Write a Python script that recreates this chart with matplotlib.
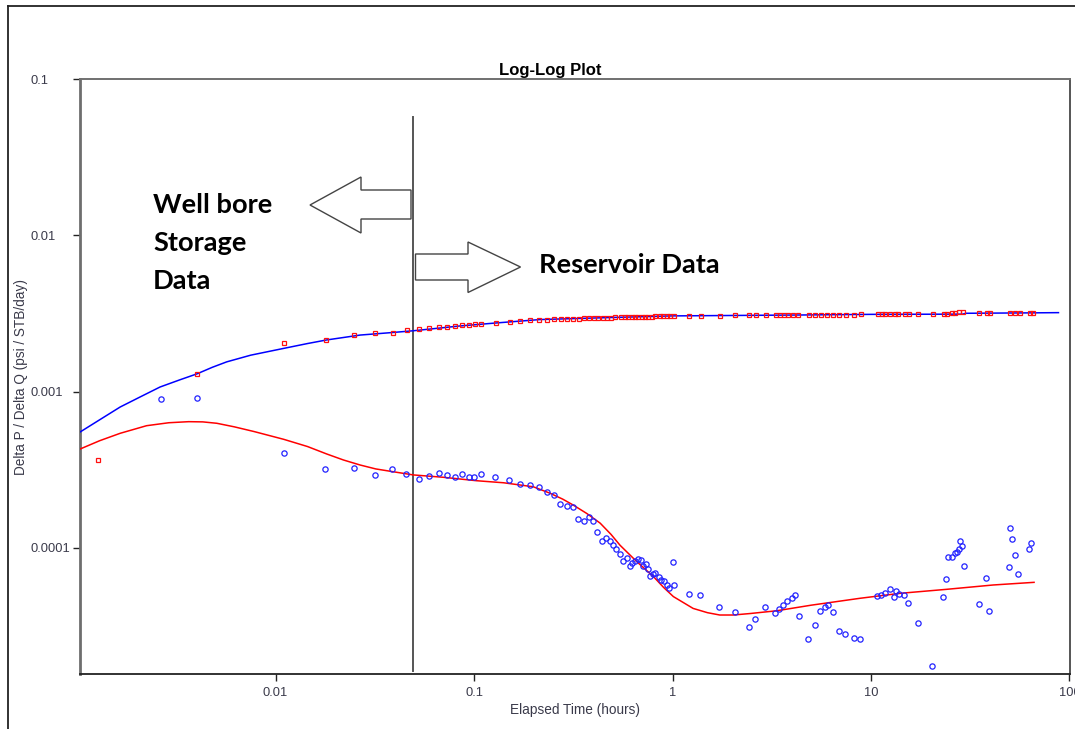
import numpy as np
import matplotlib.pyplot as plt
from matplotlib.lines import Line2D
from matplotlib.patches import Polygon

# pressure change data (red squares) and model (blue line)
dp_t = [0.00127, 0.00403, 0.0110, 0.0179, 0.0248, 0.0317, 0.0391, 0.0458, 0.0528, 0.0596,
        0.0667, 0.0735, 0.0802, 0.0873, 0.0948, 0.101, 0.109, 0.129, 0.151, 0.171,
        0.191, 0.212, 0.234, 0.254, 0.273, 0.295, 0.316, 0.338, 0.358, 0.381,
        0.403, 0.423, 0.445, 0.466, 0.490, 0.515, 0.548, 0.576, 0.598, 0.622,
        0.647, 0.673, 0.700, 0.727, 0.755, 0.785, 0.817, 0.865, 0.899, 0.935,
        0.971, 1.018, 1.216, 1.39, 1.73, 2.07, 2.43, 2.62, 2.96, 3.31,
        3.48, 3.65, 3.83, 4.06, 4.30, 4.89, 5.22, 5.58, 5.98, 6.46,
        6.92, 7.48, 8.24, 8.87, 10.8, 11.3, 11.8, 12.5, 13.2, 13.7,
        14.8, 15.5, 17.3, 20.6, 23.3, 24.2, 25.5, 26.5, 27.9, 29.0,
        35.2, 38.3, 39.8, 50.2, 53.1, 56.3, 63.2, 65.7]
dp_val = [3.66e-4, 1.30e-3, 2.05e-3, 2.15e-3, 2.29e-3, 2.36e-3, 2.38e-3, 2.47e-3, 2.50e-3, 2.54e-3,
          2.60e-3, 2.58e-3, 2.63e-3, 2.65e-3, 2.65e-3, 2.70e-3, 2.69e-3, 2.75e-3, 2.78e-3, 2.83e-3,
          2.87e-3, 2.87e-3, 2.89e-3, 2.90e-3, 2.91e-3, 2.92e-3, 2.93e-3, 2.93e-3, 2.94e-3, 2.95e-3,
          2.95e-3, 2.96e-3, 2.96e-3, 2.97e-3, 2.97e-3, 2.98e-3, 2.98e-3, 2.99e-3, 2.99e-3, 3.00e-3,
          3.00e-3, 3.01e-3, 3.01e-3, 3.02e-3, 3.02e-3, 3.02e-3, 3.03e-3, 3.03e-3, 3.03e-3, 3.04e-3,
          3.04e-3, 3.05e-3, 3.05e-3, 3.06e-3, 3.06e-3, 3.07e-3, 3.07e-3, 3.07e-3, 3.08e-3, 3.08e-3,
          3.08e-3, 3.09e-3, 3.09e-3, 3.09e-3, 3.09e-3, 3.10e-3, 3.10e-3, 3.10e-3, 3.10e-3, 3.11e-3,
          3.11e-3, 3.11e-3, 3.11e-3, 3.12e-3, 3.12e-3, 3.12e-3, 3.13e-3, 3.13e-3, 3.13e-3, 3.13e-3,
          3.13e-3, 3.14e-3, 3.14e-3, 3.15e-3, 3.15e-3, 3.15e-3, 3.16e-3, 3.16e-3, 3.22e-3, 3.22e-3,
          3.17e-3, 3.17e-3, 3.17e-3, 3.18e-3, 3.18e-3, 3.18e-3, 3.19e-3, 3.19e-3]

dp_model_t = [0.00104, 0.0013, 0.00165, 0.0021, 0.00262, 0.0033, 0.00403, 0.0048, 0.00568, 0.0075,
              0.0110, 0.0145, 0.0181, 0.0267, 0.0392, 0.0494, 0.085, 0.13, 0.215, 0.5,
              1.0, 4.3, 10, 29, 30, 65, 88]
dp_model = [5.53e-4, 6.6e-4, 7.97e-4, 9.3e-4, 1.07e-3, 1.19e-3, 1.30e-3, 1.43e-3, 1.55e-3, 1.71e-3,
            1.89e-3, 2.03e-3, 2.14e-3, 2.30e-3, 2.39e-3, 2.45e-3, 2.63e-3, 2.75e-3, 2.89e-3, 2.98e-3,
            3.05e-3, 3.09e-3, 3.12e-3, 3.13e-3, 3.17e-3, 3.19e-3, 3.20e-3]

# derivative data (blue circles) and model (red line)
der_t = [0.00266, 0.00403, 0.0110, 0.0178, 0.0248, 0.0316, 0.0388, 0.0454, 0.0526, 0.0593,
         0.0664, 0.0731, 0.080, 0.0871, 0.0948, 0.1005, 0.108, 0.128, 0.150, 0.171,
         0.191, 0.212, 0.234, 0.254, 0.272, 0.293, 0.316, 0.336, 0.358, 0.381,
         0.399, 0.418, 0.440, 0.462, 0.484, 0.503, 0.519, 0.545, 0.565, 0.588,
         0.611, 0.628, 0.648, 0.673, 0.695, 0.714, 0.733, 0.750, 0.771, 0.794,
         0.819, 0.855, 0.879, 0.904, 0.936, 0.957, 1.007, 1.023, 1.21, 1.38,
         1.72, 2.07, 2.42, 2.61, 2.94, 3.28, 3.44, 3.62, 3.79, 3.98,
         4.14, 4.34, 4.83, 5.22, 5.55, 5.87, 6.08, 6.41, 6.90, 7.43,
         8.19, 8.81, 10.7, 11.2, 11.7, 12.4, 13.0, 13.3, 13.8, 14.7,
         15.4, 17.3, 20.4, 23.1, 23.9, 24.3, 25.5, 26.4, 27.0, 27.6,
         28.1, 28.8, 29.4, 35.0, 38.1, 39.4, 49.7, 50.3, 51.5, 53.0,
         54.8, 62.8, 63.8]
der_val = [8.97e-4, 9.1e-4, 4.05e-4, 3.21e-4, 3.26e-4, 2.93e-4, 3.21e-4, 2.98e-4, 2.75e-4, 2.88e-4,
           3.03e-4, 2.93e-4, 2.84e-4, 2.98e-4, 2.83e-4, 2.84e-4, 2.98e-4, 2.84e-4, 2.72e-4, 2.55e-4,
           2.52e-4, 2.44e-4, 2.28e-4, 2.19e-4, 1.90e-4, 1.84e-4, 1.82e-4, 1.53e-4, 1.49e-4, 1.57e-4,
           1.49e-4, 1.27e-4, 1.11e-4, 1.16e-4, 1.11e-4, 1.04e-4, 9.8e-5, 9.14e-5, 8.24e-5, 8.65e-5,
           7.69e-5, 8.04e-5, 8.28e-5, 8.53e-5, 8.37e-5, 7.66e-5, 7.93e-5, 7.36e-5, 6.58e-5, 6.78e-5,
           6.91e-5, 6.52e-5, 6.24e-5, 6.11e-5, 5.76e-5, 5.56e-5, 8.09e-5, 5.76e-5, 5.09e-5, 5.0e-5,
           4.17e-5, 3.91e-5, 3.10e-5, 3.51e-5, 4.17e-5, 3.83e-5, 4.08e-5, 4.30e-5, 4.55e-5, 4.76e-5,
           5.0e-5, 3.67e-5, 2.60e-5, 3.20e-5, 3.96e-5, 4.21e-5, 4.30e-5, 3.89e-5, 2.95e-5, 2.81e-5,
           2.65e-5, 2.60e-5, 4.92e-5, 5.02e-5, 5.16e-5, 5.48e-5, 4.83e-5, 5.32e-5, 5.07e-5, 5.0e-5,
           4.42e-5, 3.29e-5, 1.75e-5, 4.83e-5, 6.30e-5, 8.75e-5, 8.75e-5, 9.23e-5, 9.46e-5, 9.88e-5,
           1.10e-4, 1.03e-4, 7.62e-5, 4.36e-5, 6.42e-5, 3.96e-5, 7.58e-5, 1.35e-4, 1.14e-4, 9.0e-5,
           6.81e-5, 9.88e-5, 1.07e-4]

der_model_t = [0.00104, 0.00130, 0.00165, 0.00224, 0.0029, 0.00365, 0.0043, 0.00506, 0.0062, 0.0078,
               0.0110, 0.0145, 0.0181, 0.022, 0.0267, 0.0320, 0.0392, 0.0494, 0.070, 0.103,
               0.141, 0.199, 0.241, 0.280, 0.316, 0.370, 0.432, 0.490, 0.544, 0.661,
               0.802, 0.90, 1.01, 1.27, 1.50, 1.73, 2.02, 2.45, 3.35, 5.0,
               8.81, 14.0, 24.0, 41.3, 66.3]
der_model = [4.30e-4, 4.85e-4, 5.41e-4, 6.05e-4, 6.32e-4, 6.42e-4, 6.40e-4, 6.27e-4, 5.95e-4, 5.55e-4,
             4.95e-4, 4.45e-4, 3.99e-4, 3.65e-4, 3.39e-4, 3.20e-4, 3.07e-4, 2.93e-4, 2.83e-4, 2.69e-4,
             2.61e-4, 2.46e-4, 2.24e-4, 2.05e-4, 1.88e-4, 1.66e-4, 1.44e-4, 1.22e-4, 1.04e-4, 8.16e-5,
             6.55e-5, 5.6e-5, 4.88e-5, 4.10e-5, 3.85e-5, 3.72e-5, 3.72e-5, 3.80e-5, 3.96e-5, 4.30e-5,
             4.76e-5, 5.12e-5, 5.43e-5, 5.79e-5, 6.02e-5]

# boundary between well bore storage and reservoir response
split_t = 0.049
split_y = [0.0569, 1.62e-5]

x_ticks = [0.01, 0.1, 1, 10, 100]
x_labels = ['0.01', '0.1', '1', '10', '100']
y_ticks = [0.0001, 0.001, 0.01, 0.1]
y_labels = ['0.0001', '0.001', '0.01', '0.1']

W, H = 1075, 729
plt.rcParams['font.family'] = ['Liberation Sans', 'DejaVu Sans']
fig = plt.figure(figsize=(W / 100, H / 100), dpi=100)
ax = fig.add_axes([80 / W, 1 - 674 / H, 990 / W, 595 / H])


def fp(x, y):
    # pixel position (from top-left) -> figure fraction
    return (x / W, 1 - y / H)


ax.plot(dp_model_t, dp_model, color='#0000ff', lw=1.1, zorder=3)
ax.plot(dp_t, dp_val, ls='none', marker='s', ms=2.8, mfc='none', mec='#ff1010', mew=0.9, zorder=4)
ax.plot(der_model_t, der_model, color='#ff0000', lw=1.1, zorder=3)
ax.plot(der_t, der_val, ls='none', marker='o', ms=3.8, mfc='none', mec='#2222ff', mew=0.9, zorder=4)
ax.plot([split_t, split_t], split_y, color='#555555', lw=1.4, zorder=2)

ax.set_xscale('log')
ax.set_yscale('log')
ax.set_xlim(0.001035, 100.6)
ax.set_ylim(1.56e-5, 0.1)
ax.set_xticks(x_ticks, labels=x_labels)
ax.set_yticks(y_ticks, labels=y_labels)
ax.minorticks_off()
ax.tick_params(axis='both', direction='out', length=5, width=1, color='#222222',
               labelsize=9.3, labelcolor='#3a3a4a')
ax.tick_params(axis='x', pad=4)
ax.tick_params(axis='y', pad=30.4)
for t in ax.get_yticklabels():
    t.set_horizontalalignment('left')

ax.spines['left'].set_color('#6e6e6e')
ax.spines['left'].set_linewidth(2)
ax.spines['top'].set_color('#707070')
ax.spines['top'].set_linewidth(1.4)
ax.spines['right'].set_color('#555555')
ax.spines['right'].set_linewidth(1.4)
ax.spines['bottom'].set_color('#222222')
ax.spines['bottom'].set_linewidth(1.3)

ax.set_xlabel('Elapsed Time (hours)', fontsize=9.8, color='#3a3a4a', labelpad=3)
ax.set_ylabel('Delta P / Delta Q (psi / STB/day)', fontsize=9.8, color='#3a3a4a', va='center')
ax.yaxis.set_label_coords((20.7 - 80) / 990, 0.5)
fig.text(*fp(549.8, 75), 'Log-Log Plot', ha='center', va='baseline', fontsize=12, fontweight='bold')

# window frame (top and left edges)
fig.add_artist(Line2D([7.5 / W, 7.5 / W], [0, 1 - 6 / H], color='#222222', lw=1.3))
fig.add_artist(Line2D([7.5 / W, 1], [1 - 6 / H, 1 - 6 / H], color='#222222', lw=1.3))

# block arrows
left_arrow = [fp(310, 205), fp(361, 177), fp(361, 190), fp(411, 190),
              fp(411, 219), fp(361, 219), fp(361, 233)]
right_arrow = [fp(415.5, 254), fp(468, 254), fp(468, 242), fp(520.5, 267),
               fp(468, 292.5), fp(468, 280), fp(415.5, 280)]
for pts in (left_arrow, right_arrow):
    fig.add_artist(Polygon(pts, closed=True, facecolor='white', edgecolor='#444444',
                           lw=1.0, transform=fig.transFigure, zorder=5))

ann = dict(fontsize=19.6, fontweight='bold', family=['Lato', 'DejaVu Sans'],
           ha='left', va='baseline', color='black')
fig.text(*fp(153, 213.3), 'Well bore', **ann)
fig.text(*fp(153, 250.7), 'Storage', **ann)
fig.text(*fp(153, 289.3), 'Data', **ann)
fig.text(*fp(539, 273.3), 'Reservoir Data', **ann)

fig.savefig('out.png', dpi=100)
